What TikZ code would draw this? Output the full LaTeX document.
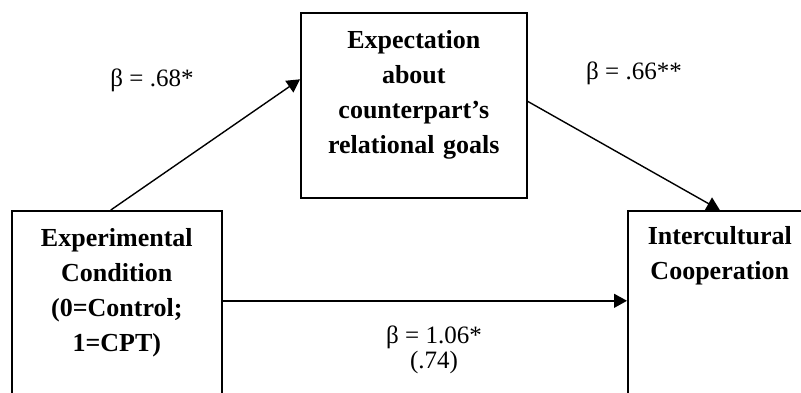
\documentclass[tikz,border=0pt]{standalone}
\usepackage{fontspec}
\setmainfont{Liberation Serif}
\usetikzlibrary{arrows.meta, positioning}

\begin{document}
\begin{tikzpicture}[x=0.5pt, y=-0.5pt,
        box/.style={draw, line width=0.8pt, anchor=north west, minimum height=100pt},
        txt/.style={inner sep=0pt, align=center, font=\fontsize{13pt}{17.5pt}\selectfont\bfseries},
        lbl/.style={inner sep=0pt, align=center, font=\fontsize{12.5pt}{12.5pt}\selectfont},
        arr/.style={line width=0.7pt, -{Triangle[length=6.5pt, width=7pt]}}]
        \useasboundingbox (0,0) rectangle (801,392);
        \clip (0,0) rectangle (801,392);

        \node[box, minimum width=105pt] (cond) at (11,210) {};
        \node[box, minimum width=113pt, minimum height=92.5pt] (exp) at (300,12) {};
        \node[box, minimum width=92pt] (coop) at (627,210) {};

        \node[txt, text width=100pt] (condT) [below=9pt of cond.north] {Experimental\\ Condition\\ (0=Control;\\ 1=CPT)};
        \node[txt, text width=108pt] (expT) [below=9pt of exp.north] {Expectation\\ about\\ counterpart’s\\ relational goals};
        \node[txt, text width=88pt] (coopT) [below=8pt of coop.north] {Intercultural\\ Cooperation};

        \node[lbl] (b1) at (152,80) {β = .68*};
        \node[lbl] (b2) at (634,73) {β = .66**};
        \node[lbl] (b3) at (434,350) {β = 1.06*\\ (.74)};

        \path[arr]
        ([xshift=-3pt]cond.north) edge ([yshift=13pt]exp.west)
        ([yshift=2pt]exp.east) edge (coop.north)
        ([yshift=5pt]cond.east) edge ([yshift=5pt]coop.west);
\end{tikzpicture}
\end{document}
